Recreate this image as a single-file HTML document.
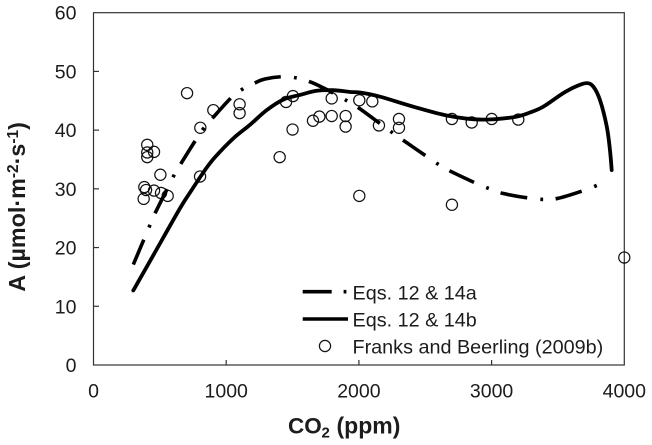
<!DOCTYPE html>
<html>
<head>
<meta charset="utf-8">
<style>
html,body{margin:0;padding:0;background:#fff;}
svg{display:block;}
text{font-family:"Liberation Sans",sans-serif;fill:#1c1c1c;}
</style>
</head>
<body>
<svg id="chart" width="652" height="445" viewBox="0 0 652 445" xmlns="http://www.w3.org/2000/svg">
<rect x="93.5" y="12.7" width="530.8" height="352.3" fill="none" stroke="#333" stroke-width="1.2"/>
<g id="ticks"></g>
<g id="marks"></g>
<path id="curveA" fill="none" stroke="#000" stroke-width="3.6" stroke-dasharray="27 13.3 2.8 12.6"/>
<path id="curveB" fill="none" stroke="#000" stroke-width="3.8" stroke-linecap="round" stroke-linejoin="round"/>
<text transform="translate(25,291.7) rotate(-90)" font-size="23.3" font-weight="bold">A (µmol·m<tspan dy="-7" font-size="15.5">-2</tspan><tspan dy="7">·s</tspan><tspan dy="-7" font-size="15.5">-1</tspan><tspan dy="7">)</tspan></text>
<text y="433.3" font-weight="bold"><tspan x="288" font-size="22.5">CO</tspan><tspan x="321.5" dy="4" font-size="15">2</tspan><tspan x="336.5" dy="-4" font-size="23">(ppm)</tspan></text>
<g>
<line x1="302.7" y1="291.7" x2="350" y2="291.7" stroke="#000" stroke-width="3.6" stroke-dasharray="29 11.9 2.8 12.6"/>
<text x="352.5" y="299.6" font-size="19.8">Eqs. 12 &amp; 14a</text>
<line x1="302.7" y1="319" x2="348" y2="319" stroke="#000" stroke-width="3.6"/>
<text x="352.5" y="326.6" font-size="19.8">Eqs. 12 &amp; 14b</text>
<circle cx="325" cy="346" r="5.6" fill="none" stroke="#111" stroke-width="1.2"/>
<text x="352.5" y="353.4" font-size="19.8">Franks and Beerling (2009b)</text>
</g>
</svg>
<script>
const xTickLabels = [0, 1000, 2000, 3000, 4000];
const yTickLabels = [0, 10, 20, 30, 40, 50, 60];
const curveACo2 = [300,380,423,463,551,604,659,770,830,903,1041,1124,1222,1292,1419,1528,1634,1732,1807,1910,2003,2172,2257,2345,2518,2604,2699,2888,2986,3089,3289,3397,3503,3704,3815];
const curveAValues = [17.1,21.4,23.7,25.8,29.8,32.2,34.3,38.3,40.3,42.2,45.6,47,48.1,48.7,49.1,48.9,48.2,47.2,46.3,45,43.7,40.9,39.5,38.1,35.4,34.1,32.9,30.9,30,29.2,28.4,28.2,28.4,29.8,30.8];
const curveBCo2 = [300,451,652,740,840,916,1054,1179,1305,1430,1556,1682,1807,1933,2008,2159,2410,2662,2912,3164,3289,3390,3540,3641,3717,3767,3817,3868,3892,3905];
const curveBValues = [12.7,18.7,26.7,29.8,33.2,35.4,38.6,40.9,43.4,45.2,46,46.7,46.8,46.5,46.4,45.7,44,42.5,41.8,42.2,43,44,46.3,47.5,48,47.4,45.1,40.6,36.6,33.2];
const pointCo2 = [405,405,405,456,504,705,805,903,1101,1101,1451,1503,1500,1403,1654,1702,1795,1795,1900,1900,2003,2101,2151,2302,2302,2003,2701,2701,2850,3001,3201,4000,803,383,396,456,509,559,378];
const pointValues = [37.5,36.2,35.4,36.3,32.4,46.3,40.4,43.4,44.4,42.9,44.8,45.8,40.1,35.4,41.6,42.3,42.4,45.4,42.4,40.6,45.1,44.9,40.8,41.9,40.4,28.8,41.9,27.3,41.3,41.9,41.8,18.3,32.1,30.3,29.8,29.7,29.3,28.8,28.3];

const xScale = v => 93.5 + v * (624.3 - 93.5) / 4000;
const yScale = v => 365 - v * (365 - 12.7) / 60;
const SVGNS = 'http://www.w3.org/2000/svg';

function smoothPath(xs, ys) {
  const p = xs.map((x, i) => [xScale(x), yScale(ys[i])]);
  let d = 'M' + p[0][0].toFixed(2) + ' ' + p[0][1].toFixed(2);
  for (let i = 0; i < p.length - 1; i++) {
    const p0 = p[Math.max(i - 1, 0)], p1 = p[i], p2 = p[i + 1], p3 = p[Math.min(i + 2, p.length - 1)];
    const c1x = p1[0] + (p2[0] - p0[0]) / 6, c1y = p1[1] + (p2[1] - p0[1]) / 6;
    const c2x = p2[0] - (p3[0] - p1[0]) / 6, c2y = p2[1] - (p3[1] - p1[1]) / 6;
    d += 'C' + [c1x, c1y, c2x, c2y, p2[0], p2[1]].map(n => n.toFixed(2)).join(' ');
  }
  return d;
}

document.getElementById('curveA').setAttribute('d', smoothPath(curveACo2, curveAValues));
document.getElementById('curveB').setAttribute('d', smoothPath(curveBCo2, curveBValues));

const ticks = document.getElementById('ticks');
xTickLabels.forEach(v => {
  if (v > 0 && v < 4000) {
    const t = document.createElementNS(SVGNS, 'line');
    
    
    t.setAttribute('x1', xScale(v));
    t.setAttribute('x2', xScale(v));
    t.setAttribute('y1', 365);
    t.setAttribute('y2', 360);
    t.setAttribute('stroke', '#333');
    t.setAttribute('stroke-width', '1.2');
    ticks.appendChild(t);
  }
  const l = document.createElementNS(SVGNS, 'text');
  
  
  l.setAttribute('x', xScale(v));
  l.setAttribute('y', 397.5);
  l.setAttribute('text-anchor', 'middle');
  l.setAttribute('font-size', '19.5');
  l.textContent = v;
  ticks.appendChild(l);
});
yTickLabels.forEach(v => {
  if (v > 0 && v < 60) {
    const t = document.createElementNS(SVGNS, 'line');
    
    
    t.setAttribute('x1', 93.5);
    t.setAttribute('x2', 99);
    t.setAttribute('y1', yScale(v));
    t.setAttribute('y2', yScale(v));
    t.setAttribute('stroke', '#333');
    t.setAttribute('stroke-width', '1.2');
    ticks.appendChild(t);
  }
  const l = document.createElementNS(SVGNS, 'text');
  
  
  l.setAttribute('x', 76.5);
  l.setAttribute('y', yScale(v) + 7);
  l.setAttribute('text-anchor', 'end');
  l.setAttribute('font-size', '19.5');
  l.textContent = v;
  ticks.appendChild(l);
});

const marks = document.getElementById('marks');
pointCo2.forEach((x, i) => {
  const c = document.createElementNS(SVGNS, 'circle');
  
  
  c.setAttribute('cx', xScale(x));
  c.setAttribute('cy', yScale(pointValues[i]));
  c.setAttribute('r', 5.6);
  c.setAttribute('fill', 'none');
  c.setAttribute('stroke', '#111');
  c.setAttribute('stroke-width', '1.2');
  marks.appendChild(c);
});
</script>
</body>
</html>
